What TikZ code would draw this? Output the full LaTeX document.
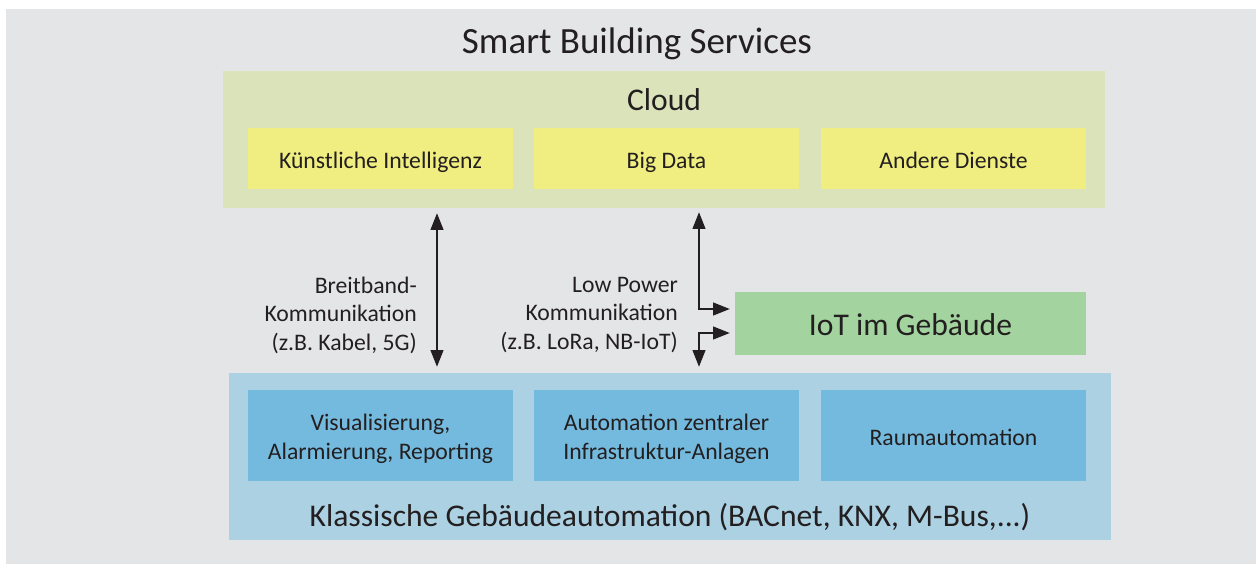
\documentclass[tikz,border=0pt]{standalone}
\usepackage{fontspec}
\setmainfont{Carlito}
\usetikzlibrary{arrows.meta}
\definecolor{bggray}{HTML}{E4E5E7}
\definecolor{cloudgreen}{HTML}{DAE3B9}
\definecolor{kiyellow}{HTML}{F0EE80}
\definecolor{iotgreen}{HTML}{A3D49F}
\definecolor{outerblue}{HTML}{ABD1E3}
\definecolor{innerblue}{HTML}{74BADE}
\definecolor{txt}{HTML}{231F20}
\tikzset{
  area/.style={inner sep=0pt, outer sep=0pt, anchor=north west},
  cell/.style={inner sep=0pt, outer sep=0pt, minimum width=265pt},
  celltext/.style={inner sep=0pt, align=center,
    font=\fontsize{23.7}{28.5}\selectfont, text=txt},
  bigtext/.style={inner sep=0pt, font=\fontsize{31.6}{36}\selectfont, text=txt},
  lbl/.style={inner sep=0pt, align=right, anchor=east,
    font=\fontsize{23.7}{28.5}\selectfont, text=txt},
  link/.style={draw=txt, line width=2.7pt,
    arrows={Triangle[length=17pt,width=12.5pt]-Triangle[length=17pt,width=12.5pt]}},
}
\begin{document}
\begin{tikzpicture}[x=1pt,y=-1pt]
\useasboundingbox (0,0) rectangle (1256,564);
\fill[bggray] (6,9) rectangle (1256,564);
% title
\node[inner sep=0pt, font=\fontsize{37}{42}\selectfont, text=txt] (title) at (637,44) {Smart Building Services};
% cloud
\node[area, fill=cloudgreen, minimum width=882pt, minimum height=137pt] (cloud) at (223,71) {};
\node[bigtext] (cloudtitle) at (664,99.5) {Cloud};
\node[cell, fill=kiyellow, minimum height=61pt] (ki) at (380.5,158.5) {};
\node[cell, fill=kiyellow, minimum height=61pt] (bigdata) at (666.5,158.5) {};
\node[cell, fill=kiyellow, minimum height=61pt] (andere) at (953.5,158.5) {};
\node[celltext] (kit) at ([yshift=-3.5pt]ki.center) {Künstliche Intelligenz};
\node[celltext] (bigdatat) at ([yshift=-4pt]bigdata.center) {Big Data};
\node[celltext] (anderet) at ([yshift=-2pt]andere.center) {Andere Dienste};
% classic automation
\node[area, fill=outerblue, minimum width=882pt, minimum height=167pt] (blue) at (229,373) {};
\node[cell, fill=innerblue, minimum height=91pt] (visu) at (380.5,435.5) {};
\node[cell, fill=innerblue, minimum height=91pt] (zentral) at (666.5,435.5) {};
\node[cell, fill=innerblue, minimum height=91pt] (raum) at (953.5,435.5) {};
\node[celltext] (visut) at ([yshift=-3.5pt]visu.center) {Visualisierung,\\Alarmierung, Reporting};
\node[celltext] (zentralt) at ([yshift=-3.5pt]zentral.center) {Automation zentraler\\Infrastruktur-Anlagen};
\node[celltext] (raumt) at ([yshift=-2pt]raum.center) {Raumautomation};
\node[bigtext] (klassisch) at (670,517.5) {Klassische Gebäudeautomation (BACnet, KNX, M-Bus,...)};
% IoT
\node[area, fill=iotgreen, minimum width=351pt, minimum height=63pt] (iot) at (735,292) {};
\node[bigtext] (iottext) at (910.5,325) {IoT im Gebäude};
% labels
\node[lbl] (breit) at (417,315) {Breitband-\\Kommunikation\\(z.B. Kabel, 5G)};
\node[lbl] (lowp) at (678,315) {Low Power\\Kommunikation\\(z.B. LoRa, NB-IoT)};
% connectors
\coordinate (c1) at (437,0);
\coordinate (c2) at (699,0);
\draw[link, shorten <=5pt, shorten >=6pt] (c1 |- cloud.south) -- (c1 |- blue.north);
\draw[link, shorten <=4pt, shorten >=5pt] (c2 |- cloud.south) |- ([yshift=14.5pt]iot.west);
\draw[link, shorten <=5pt, shorten >=6pt] ([yshift=-9.5pt]iot.west) -| (c2 |- blue.north);
\end{tikzpicture}
\end{document}
